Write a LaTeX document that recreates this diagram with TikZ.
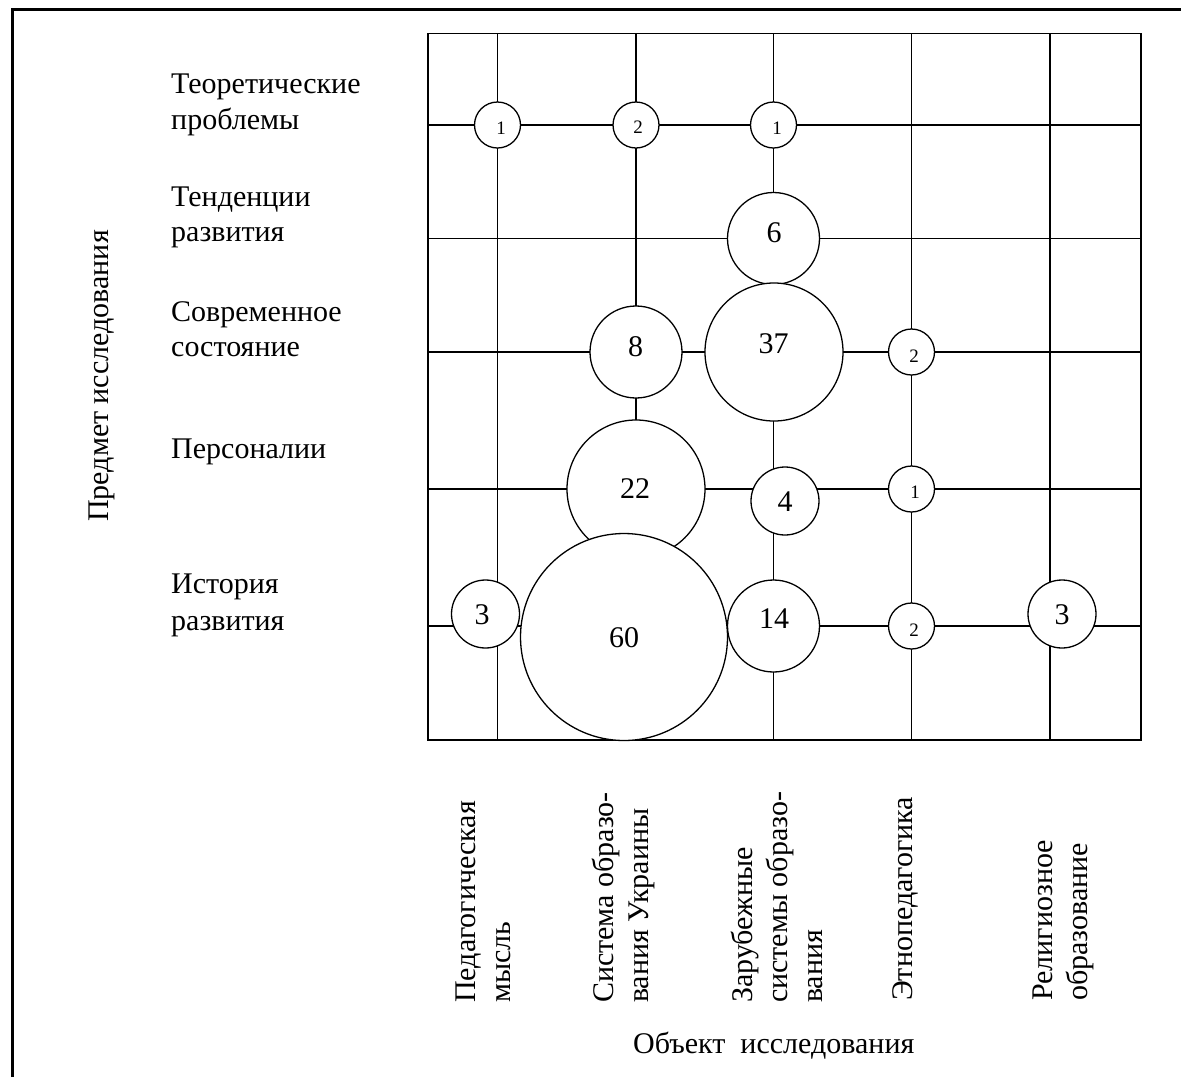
\documentclass[tikz,border=0pt]{standalone}
\usepackage{fontspec}
\setmainfont{Liberation Serif}
\begin{document}
\begin{tikzpicture}[x=1pt,y=-1pt,
  gridline/.style={line width=1.3pt},
  frameline/.style={line width=2.5pt},
  bub/.style={circle,draw,fill=white,line width=1.3pt,inner sep=0pt},
  lbl/.style={font=\fontsize{30}{35}\selectfont,inner sep=0pt},
  num/.style={lbl,anchor=center},
  sml/.style={font=\fontsize{19}{23}\selectfont,inner sep=0pt,anchor=center},
  rowlbl/.style={lbl,anchor=base west},
  collbl/.style={lbl,anchor=base west,rotate=90}]
\useasboundingbox (0,0) rectangle (1181,1077);
\fill[white] (0,0) rectangle (1181,1077);
% outer frame (only top and left edges visible)
\coordinate (fbl) at (12.5,1077);
\coordinate (ftl) at (12.5,9.5);
\coordinate (ftr) at (1181,9.5);
\draw[frameline] (fbl) -- (ftl) -- (ftr);
% grid
\draw[gridline] (428,33.5) rectangle (1141,740);
\foreach \y in {125,238.5,352,489,626} \draw[gridline] (428,\y) -- (1141,\y);
\foreach \x in {497.5,636,773.5,911.5,1050} \draw[gridline] (\x,33.5) -- (\x,740);
% bubbles
\node[bub,minimum size=46pt] (a1) at (497.5,125) {};
\node[bub,minimum size=46pt] (a2) at (636,125) {};
\node[bub,minimum size=46pt] (a3) at (773.5,125) {};
\node[bub,minimum size=92pt] (b3) at (773.5,238.5) {};
\node[bub,minimum size=92pt] (c2) at (636,352) {};
\node[bub,minimum size=138pt] (c3) at (774,352) {};
\node[bub,minimum size=46pt] (c4) at (911.5,352) {};
\node[bub,minimum size=138pt] (d2) at (636,489) {};
\node[bub,minimum size=68pt] (d3) at (785,501) {};
\node[bub,minimum size=46pt] (d4) at (911.5,489) {};
\node[bub,minimum size=68pt] (e1) at (485.5,614) {};
\node[bub,minimum size=207pt] (e2) at (624,637) {};
\node[bub,minimum size=92pt] (e3) at (773.5,626) {};
\node[bub,minimum size=46pt] (e4) at (911.5,626) {};
\node[bub,minimum size=68pt] (e5) at (1062,614) {};
% bubble numbers
\node[sml] (ta1) at (501,128) {1};
\node[sml] (ta2) at (638,127) {2};
\node[sml] (ta3) at (777,128.5) {1};
\node[num] (tb3) at (774,233) {6};
\node[num] (tc2) at (635.5,347) {8};
\node[num] (tc3) at (773.5,344) {37};
\node[sml] (tc4) at (914,356.5) {2};
\node[num] (td2) at (635,489) {22};
\node[num] (td3) at (785,501.5) {4};
\node[sml] (td4) at (915,492.5) {1};
\node[num] (te1) at (482,615) {3};
\node[num] (te2) at (624,637.5) {60};
\node[num] (te3) at (774,619) {14};
\node[sml] (te4) at (914,630) {2};
\node[num] (te5) at (1062,614.5) {3};
% row labels
\node[rowlbl] (r1a) at (171,93.3) {Теоретические};
\node[rowlbl] (r1b) at (171,129) {проблемы};
\node[rowlbl] (r2a) at (171,206.7) {Тенденции};
\node[rowlbl] (r2b) at (171,241.7) {развития};
\node[rowlbl] (r3a) at (171,321.7) {Современное};
\node[rowlbl] (r3b) at (171,356.7) {состояние};
\node[rowlbl] (r4a) at (171,458.3) {Персоналии};
\node[rowlbl] (r5a) at (171,593.3) {История};
\node[rowlbl] (r5b) at (171,630) {развития};
% axis labels
\node[collbl] (ylab) at (108,522) {Предмет исследования};
\node[rowlbl] (xlab) at (633,1053.3) {Объект\ \ исследования};
% column labels
\node[collbl] (k1a) at (475,1003) {Педагогическая};
\node[collbl] (k1b) at (510,1003) {мысль};
\node[collbl] (k2a) at (613,1003) {Система образо-};
\node[collbl] (k2b) at (648,1003) {вания Украины};
\node[collbl] (k3a) at (752,1003) {Зарубежные};
\node[collbl] (k3b) at (787,1003) {системы образо-};
\node[collbl] (k3c) at (822,1003) {вания};
\node[collbl] (k4a) at (912,1001) {Этнопедагогика};
\node[collbl] (k5a) at (1052,1001) {Религиозное};
\node[collbl] (k5b) at (1087,1001) {образование};
\end{tikzpicture}
\end{document}
